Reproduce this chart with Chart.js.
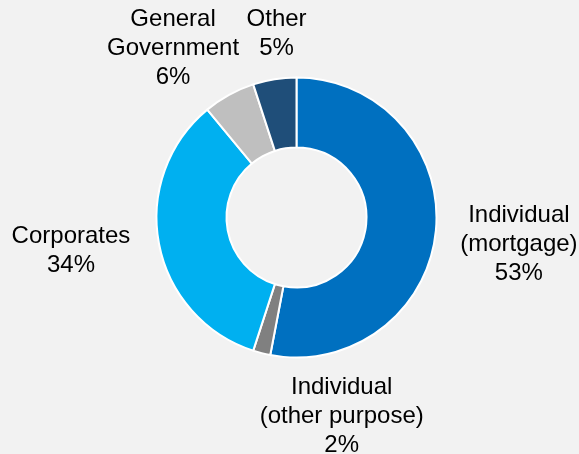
<!DOCTYPE html>
<html>
<head>
<meta charset="utf-8">
<script src="https://cdn.jsdelivr.net/npm/chart.js@4"></script>
<style>
  html, body { margin: 0; padding: 0; background: #f2f2f2; }
  #wrap { width: 579px; height: 454px; }
</style>
</head>
<body>
<div id="wrap"><canvas id="chart" width="579" height="454"></canvas></div>
<script>
const categories = [
  ['Individual', '(mortgage)'],
  ['Individual', '(other purpose)'],
  ['Corporates'],
  ['General', 'Government'],
  ['Other']
];
const shares = [53, 2, 34, 6, 5];
const sliceColors = ['#0070c0', '#808080', '#00b0f0', '#bfbfbf', '#1f4e79'];

// where each label block sits relative to the outer edge of its slice
const labelOffsets = [[83, 14], [80, 63], [-88, 7], [-56, -46], [2, -45]];

const sliceLabels = {
  id: 'sliceLabels',
  afterDatasetsDraw(chart) {
    const ctx = chart.ctx;
    const arcs = chart.getDatasetMeta(0).data;
    ctx.save();
    ctx.font = '24px "Liberation Sans", Arial, sans-serif';
    ctx.fillStyle = '#000';
    ctx.textAlign = 'center';
    ctx.textBaseline = 'middle';
    const lineH = 29;
    arcs.forEach((arc, i) => {
      const {x, y, startAngle, endAngle, outerRadius} = arc.getProps(['x', 'y', 'startAngle', 'endAngle', 'outerRadius'], true);
      const mid = (startAngle + endAngle) / 2;
      const cx = x + Math.cos(mid) * outerRadius + labelOffsets[i][0];
      const cy = y + Math.sin(mid) * outerRadius + labelOffsets[i][1];
      const lines = categories[i].concat([shares[i] + '%']);
      const top = cy - (lines.length - 1) * lineH / 2;
      lines.forEach((t, k) => ctx.fillText(t, cx, top + k * lineH));
    });
    ctx.restore();
  }
};

new Chart(document.getElementById('chart'), {
  type: 'doughnut',
  data: {
    labels: categories.map(c => c.join(' ')),
    datasets: [{
      data: shares,
      backgroundColor: sliceColors,
      borderColor: '#ffffff',
      borderWidth: 2,
      hoverOffset: 0
    }]
  },
  options: {
    responsive: false,
    animation: false,
    cutout: '50%',
    radius: 140,
    layout: { padding: { left: 14, right: 0, top: 0, bottom: 19 } },
    plugins: {
      legend: { display: false },
      tooltip: { enabled: false }
    }
  },
  plugins: [sliceLabels]
});
</script>
</body>
</html>
